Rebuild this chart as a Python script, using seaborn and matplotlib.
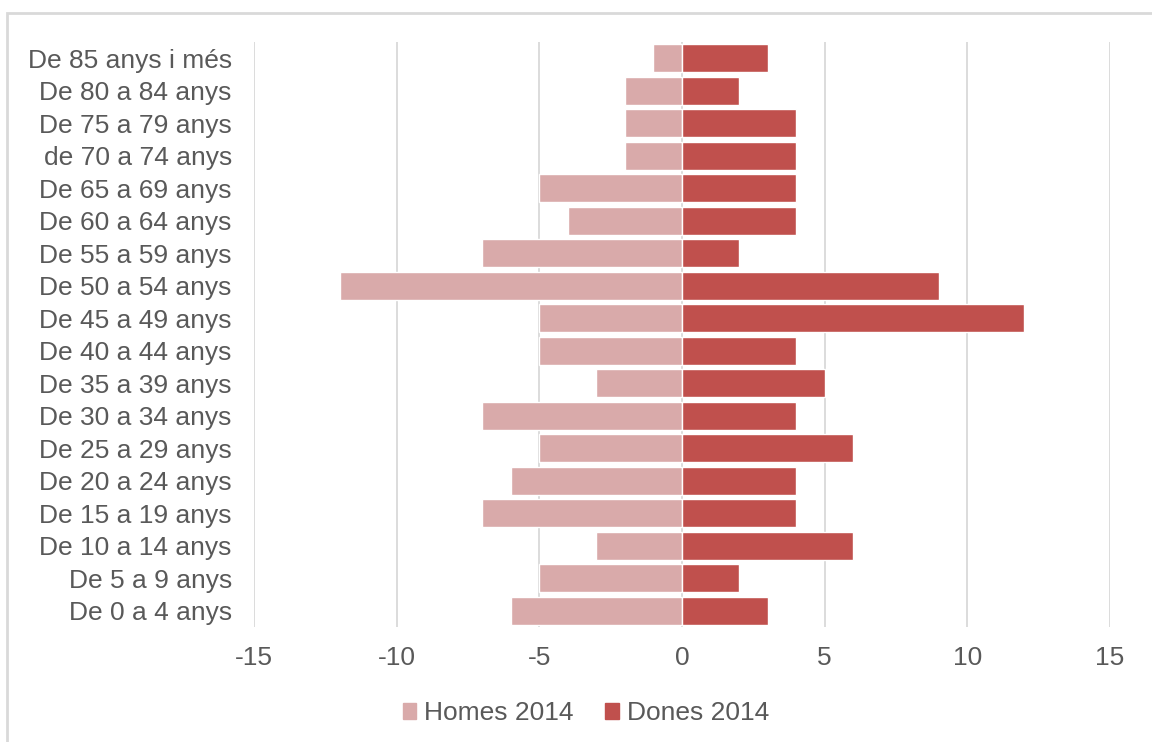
import matplotlib
matplotlib.use("Agg")
import matplotlib.pyplot as plt
import seaborn as sns
import pandas as pd
from matplotlib.patches import Rectangle, Patch

# age groups, top to bottom
grups = ["De 85 anys i més", "De 80 a 84 anys", "De 75 a 79 anys", "de 70 a 74 anys",
         "De 65 a 69 anys", "De 60 a 64 anys", "De 55 a 59 anys", "De 50 a 54 anys",
         "De 45 a 49 anys", "De 40 a 44 anys", "De 35 a 39 anys", "De 30 a 34 anys",
         "De 25 a 29 anys", "De 20 a 24 anys", "De 15 a 19 anys", "De 10 a 14 anys",
         "De 5 a 9 anys", "De 0 a 4 anys"]
homes = [-1, -2, -2, -2, -5, -4, -7, -12, -5, -5, -3, -7, -5, -6, -7, -3, -5, -6]
dones = [3, 2, 4, 4, 4, 4, 2, 9, 12, 4, 5, 4, 6, 4, 4, 6, 2, 3]
x_ticks = [-15, -10, -5, 0, 5, 10, 15]

df = pd.DataFrame({"grup": grups, "Homes 2014": homes, "Dones 2014": dones})

sns.set_style("white")
plt.rcParams["font.family"] = ["Liberation Sans", "DejaVu Sans"]

col_homes = "#d9aaaa"
col_dones = "#c0504d"
txt = "#595959"
fs = 19

fig = plt.figure(figsize=(11.52, 7.42), dpi=100)
ax = fig.add_axes([254 / 1152, 1 - 627 / 742, (1110 - 254) / 1152, (627 - 42) / 742])

sns.barplot(data=df, x="Homes 2014", y="grup", order=grups, color=col_homes,
            width=0.86, ax=ax, zorder=2, saturation=1)
sns.barplot(data=df, x="Dones 2014", y="grup", order=grups, color=col_dones,
            width=0.86, ax=ax, zorder=2, saturation=1)

ax.set_xlim(-15, 15)
ax.set_ylim(len(grups) - 0.5, -0.5)
ax.set_xticks(x_ticks)
ax.set_xticklabels([str(v) for v in x_ticks])
for v in x_ticks:
    ax.axvline(v, color="#d9d9d9", lw=1.3, zorder=1)
ax.set_xlabel("")
ax.set_ylabel("")
for s in ax.spines.values():
    s.set_visible(False)
ax.tick_params(axis="y", length=0, pad=16, labelsize=fs, labelcolor=txt)
ax.tick_params(axis="x", length=0, pad=14, labelsize=fs, labelcolor=txt)

handles = [Patch(color=col_homes, label="Homes 2014"), Patch(color=col_dones, label="Dones 2014")]
fig.legend(handles=handles, loc="center", bbox_to_anchor=(586 / 1152, 1 - 713 / 742),
           ncol=2, frameon=False, fontsize=fs, labelcolor=txt,
           handlelength=0.5, handleheight=0.55, handletextpad=0.3, columnspacing=1.2)

fig.patches.append(Rectangle((7 / 1152, -0.1), 1.2, 1 - 13 / 742 + 0.1,
                             transform=fig.transFigure, fill=False,
                             edgecolor="#d9d9d9", lw=2))

fig.savefig("out.png", dpi=100)
